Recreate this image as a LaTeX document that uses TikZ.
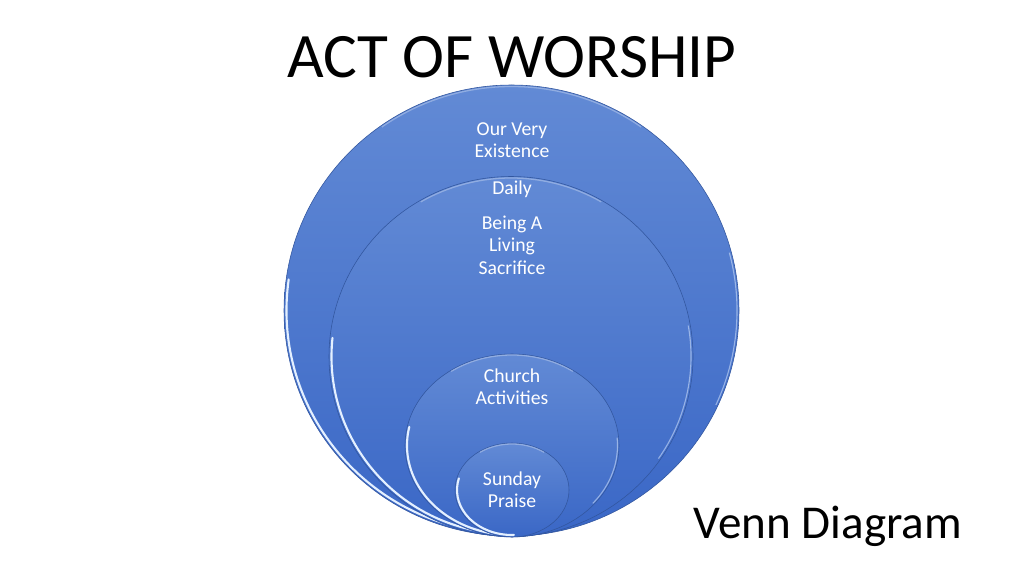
\documentclass[tikz,border=0pt]{standalone}
\usepackage{fontspec}
\setmainfont{Carlito}
\definecolor{venntop}{RGB}{98,138,213}
\definecolor{vennbot}{RGB}{58,103,198}
\definecolor{vennline}{RGB}{50,86,158}
\definecolor{rimcol}{RGB}{228,240,255}
\tikzset{
  venn/.style={top color=venntop,bottom color=vennbot,draw=vennline,line width=0.4pt},
  rim/.style={rimcol,line width=1.5pt,line cap=round},
  siderim/.style={rimcol,opacity=0.5,line width=0.8pt},
  toprim/.style={white,opacity=0.3,line width=0.9pt},
  vlabel/.style={text=white,align=center,font=\fontsize{14}{16}\selectfont}
}
\begin{document}
\begin{tikzpicture}[x=0.025cm,y=-0.025cm]
\useasboundingbox[fill=white] (0,0) rectangle (1024,576);

\node[anchor=base,font=\fontsize{45}{54}\selectfont] (title) at (512,78) {ACT OF WORSHIP};
\node[anchor=base,font=\fontsize{33.5}{40}\selectfont] (venndiag) at (828,538) {Venn Diagram};

\draw[venn] (511.5,310.5) ellipse [x radius=227.5,y radius=225.5];
\draw[rim] (511.5,310.5) ++(105:225 and 223) arc[start angle=105,end angle=188,x radius=225,y radius=223];
\draw[siderim] (511.5,310.5) ++(-15:225.5 and 223.5) arc[start angle=-15,end angle=25,x radius=225.5,y radius=223.5];
\draw[toprim] (511.5,310.5) ++(235:226 and 224) arc[start angle=235,end angle=305,x radius=226,y radius=224];

\draw[venn] (511,356.5) ellipse [x radius=182,y radius=180];
\draw[rim] (511,356.5) ++(100:179.5 and 177.5) arc[start angle=100,end angle=186,x radius=179.5,y radius=177.5];
\draw[siderim] (511,356.5) ++(-10:180 and 178) arc[start angle=-10,end angle=35,x radius=180,y radius=178];
\draw[toprim] (511,356.5) ++(240:180.5 and 178.5) arc[start angle=240,end angle=300,x radius=180.5,y radius=178.5];

\draw[venn] (512,445.5) ellipse [x radius=107,y radius=91.5];
\draw[rim] (512,445.5) ++(95:105 and 89.5) arc[start angle=95,end angle=192,x radius=105,y radius=89.5];
\draw[siderim] (512,445.5) ++(-5:105.5 and 90) arc[start angle=-5,end angle=40,x radius=105.5,y radius=90];
\draw[toprim] (512,445.5) ++(235:106 and 90.5) arc[start angle=235,end angle=305,x radius=106,y radius=90.5];

\draw[venn] (512,490) ellipse [x radius=57,y radius=47];
\draw[rim] (512,490) ++(88:55 and 45) arc[start angle=88,end angle=195,x radius=55,y radius=45];
\draw[toprim] (512,490) ++(235:56 and 46) arc[start angle=235,end angle=305,x radius=56,y radius=46];

\node[vlabel] (ourvery) at (512,140) {Our Very\\Existence};
\node[vlabel] (daily) at (512,189) {Daily};
\node[vlabel] (living) at (512,245) {Being A\\Living\\Sacrifice};
\node[vlabel] (church) at (512,386.5) {Church\\Activities};
\node[vlabel] (sunday) at (512,489.5) {Sunday\\Praise};

\end{tikzpicture}
\end{document}
